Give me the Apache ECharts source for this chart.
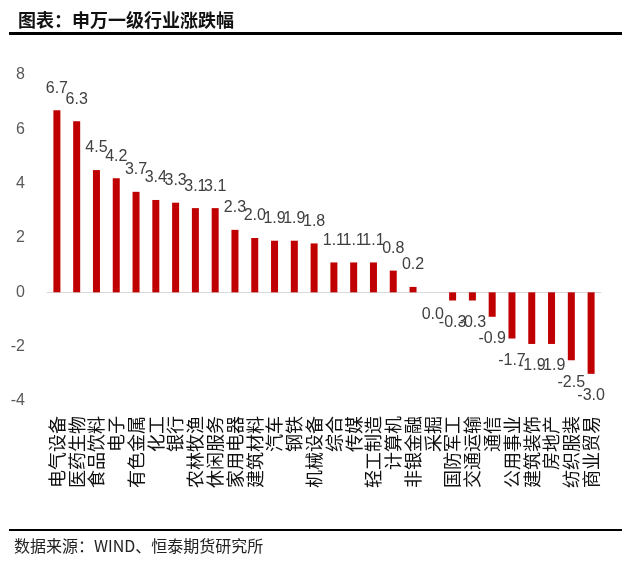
<!DOCTYPE html>
<html><head><meta charset="utf-8">
<script src="https://cdn.jsdelivr.net/npm/echarts@6/dist/echarts.min.js"></script>
<style>html,body{margin:0;padding:0;background:#fff}#c{width:626px;height:562px}</style>
</head><body><div id="c"></div>
<script>
const categories = ['电气设备','医药生物','食品饮料','电子','有色金属','化工','银行','农林牧渔','休闲服务','家用电器','建筑材料','汽车','钢铁','机械设备','综合','传媒','轻工制造','计算机','非银金融','采掘','国防军工','交通运输','通信','公用事业','建筑装饰','房地产','纺织服装','商业贸易'];
const changes = [6.7,6.3,4.5,4.2,3.7,3.4,3.3,3.1,3.1,2.3,2.0,1.9,1.9,1.8,1.1,1.1,1.1,0.8,0.2,0.0,-0.3,-0.3,-0.9,-1.7,-1.9,-1.9,-2.5,-3.0];
const yTicks = [-4,-2,0,2,4,6,8];
const titleText = '图表：申万一级行业涨跌幅';
const sourceText = '数据来源：WIND、恒泰期货研究所';

const chart = echarts.init(document.getElementById('c'), null, {renderer:'canvas'});
const numFont = "'Liberation Sans Narrow','Liberation Sans',sans-serif";
chart.setOption({
  animation:false,
  grid:{left:47,right:25,top:75,bottom:161},
  title:{text:titleText,left:13,top:6,textStyle:{fontSize:18,fontWeight:'bold',color:'#111',fontFamily:"'Noto Sans CJK SC'"}},
  graphic:[
    {type:'rect',shape:{x:9,y:32,width:613,height:3},style:{fill:'#000'}},
    {type:'rect',shape:{x:9,y:529,width:613,height:2},style:{fill:'#000'}},
    {type:'text',left:14,top:538,style:{text:sourceText,fontSize:16,fill:'#222',fontFamily:"'Noto Sans CJK SC'"}}
  ],
  xAxis:[
    {type:'category',data:categories,axisLine:{onZero:true,lineStyle:{color:'#d9d9d9',width:1}},axisTick:{show:false},axisLabel:{show:false}},
    {type:'category',data:categories,position:'bottom',axisLine:{show:false,onZero:false},axisTick:{show:false},
     axisLabel:{rotate:90,margin:15,fontSize:18,color:'#111',fontFamily:"'Noto Sans CJK SC'",interval:0}}
  ],
  yAxis:{type:'value',min:yTicks[0],max:yTicks[yTicks.length-1],interval:2,splitLine:{show:false},axisLine:{show:false},axisTick:{show:false},
    axisLabel:{fontSize:16,color:'#595959',fontFamily:numFont,margin:22}},
  series:[{
    type:'bar',xAxisIndex:0,barWidth:7,
    itemStyle:{color:'#C00000'},
    data:changes.map(v=>({value:v,label:{position:v>0?'top':'bottom'}})),
    label:{show:true,distance:14,fontSize:16,color:'#404040',fontFamily:numFont,formatter:p=>p.value.toFixed(1)}
  }]
});
</script></body></html>
